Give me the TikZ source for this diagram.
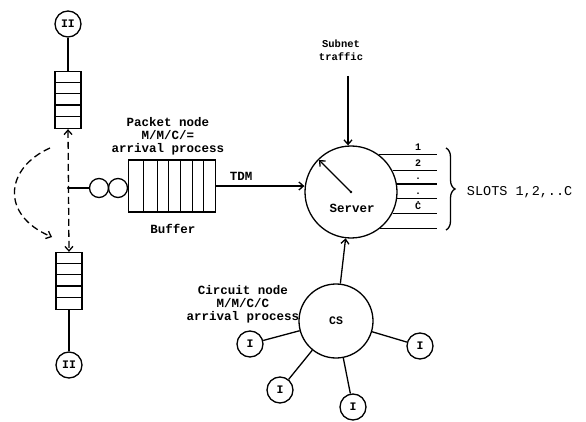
\documentclass[tikz,border=0pt]{standalone}
\usepackage{fontspec}
\setmonofont{Liberation Mono}
\usetikzlibrary{arrows.meta,decorations.pathreplacing}

\begin{document}
\begin{tikzpicture}[x=1pt,y=-1pt,line width=1.3pt,>={Straight Barb[length=4.5pt,width=8pt]},
	txt/.style={font=\ttfamily\bfseries\fontsize{12.5}{13}\selectfont},
	src/.style={draw,circle,minimum size=26pt,inner sep=0pt,font=\ttfamily\bfseries\fontsize{11.5}{11}\selectfont},
	qbox/.style={draw,minimum width=26pt,minimum height=57pt,inner sep=0pt},
	bigc/.style={draw,circle,inner sep=0pt,txt},
	slot/.style={anchor=base,inner sep=0pt,font=\ttfamily\bfseries\fontsize{10}{10}\selectfont},
	dsh/.style={dash pattern=on 7pt off 4pt}]
	\useasboundingbox (0,0) rectangle (586,422);
	% II sources and their queues
	\node[src] (IIa) at (68,24) {II};
	\node[qbox] (qa) at (68,100) {};
	\foreach \i in {1,...,4} \draw ([yshift=-\i*11.4pt]qa.north west) -- ([yshift=-\i*11.4pt]qa.north east);
	\draw (IIa) -- (qa);
	\node[qbox] (qb) at (69,281) {};
	\foreach \i in {1,...,4} \draw ([yshift=-\i*11.4pt]qb.north west) -- ([yshift=-\i*11.4pt]qb.north east);
	\node[src] (IIb) at (69,365) {II};
	\draw (qb) -- (IIb);
	\draw[dsh,<->] (qa.south) -- (qb.north);
	\coordinate (ca) at (50,148);
	\coordinate (cb) at (52,237);
	\draw[dsh,->] (ca) .. controls (5,168) and (0,215) .. (cb);
	% packet node
	\coordinate (tap) at (68.5,188);
	\fill (tap) circle (1.6pt);
	\node[draw,circle,minimum size=19pt,inner sep=0pt] (sa) at (99,188) {};
	\node[draw,circle,minimum size=19pt,inner sep=0pt] (sb) at (118,188) {};
	\draw (tap) -- (sa);
	\node[draw,minimum width=87pt,minimum height=52pt,inner sep=0pt,anchor=west] (buf) at (127.5,186) {};
	\foreach \dx in {16,30,41,53,65,76} \draw ([xshift=\dx pt]buf.north west) -- ([xshift=\dx pt]buf.south west);
	\node[txt,align=center] (pkt) at (168,136) {Packet node\\M/M/C/=\\arrival process};
	\node[txt] (buflbl) at (173,229) {Buffer};
	% server
	\node[bigc,minimum size=92pt] (server) at (351,192) {};
	\node[txt] (srvlbl) at (352,208) {Server};
	\coordinate (hand) at (319,160);
	\fill (server.center) circle (1.4pt);
	\draw[->] (server.center) -- (hand);
	\draw[->] (buf.east) -- (buf.east -| server.west);
	\node[txt] (tdm) at (241,176) {TDM};
	\node[txt,align=center,font=\ttfamily\bfseries\fontsize{10.5}{13}\selectfont] (subnet) at (341,50) {Subnet\\traffic};
	\coordinate (subtop) at (348,76);
	\draw[->] (subtop) -- (subtop |- server.north);
	% slots
	\coordinate (slotend) at (437,0);
	\foreach \a in {53.6,27.2,10,-8.8,-27.2,-51.5} \draw (server.\a) -- (server.\a -| slotend);
	\foreach \a/\t [count=\k] in {53.6/1,27.2/2,10/.,-8.8/.,-27.2/\.C}
		\path (server.\a -| slotend) ++(-19,-4) node[slot] (sl\k) {\t};
	\coordinate (bt) at (446,148);
	\coordinate (bb) at (446,230);
	\draw[decorate,decoration={brace,amplitude=9pt}] (bt) -- (bb);
	\node[anchor=west,font=\ttfamily\fontsize{13.5}{14}\selectfont] (slots) at (463,192) {SLOTS 1,2,..C};
	% circuit node
	\node[bigc,minimum size=74pt,font=\ttfamily\bfseries\fontsize{11.5}{11}\selectfont] (cs) at (336,321) {CS};
	\draw[->] (cs) -- (server);
	\node[txt,align=center] (circ) at (243,304) {Circuit node\\M/M/C/C\\arrival process};
	\node[src] (Ia) at (250,344) {I};
	\node[src] (Ib) at (280,390) {I};
	\node[src] (Ic) at (353,407) {I};
	\node[src] (Id) at (420,346) {I};
	\foreach \n in {Ia,Ib,Ic,Id} \draw (\n) -- (cs);
\end{tikzpicture}
\end{document}
